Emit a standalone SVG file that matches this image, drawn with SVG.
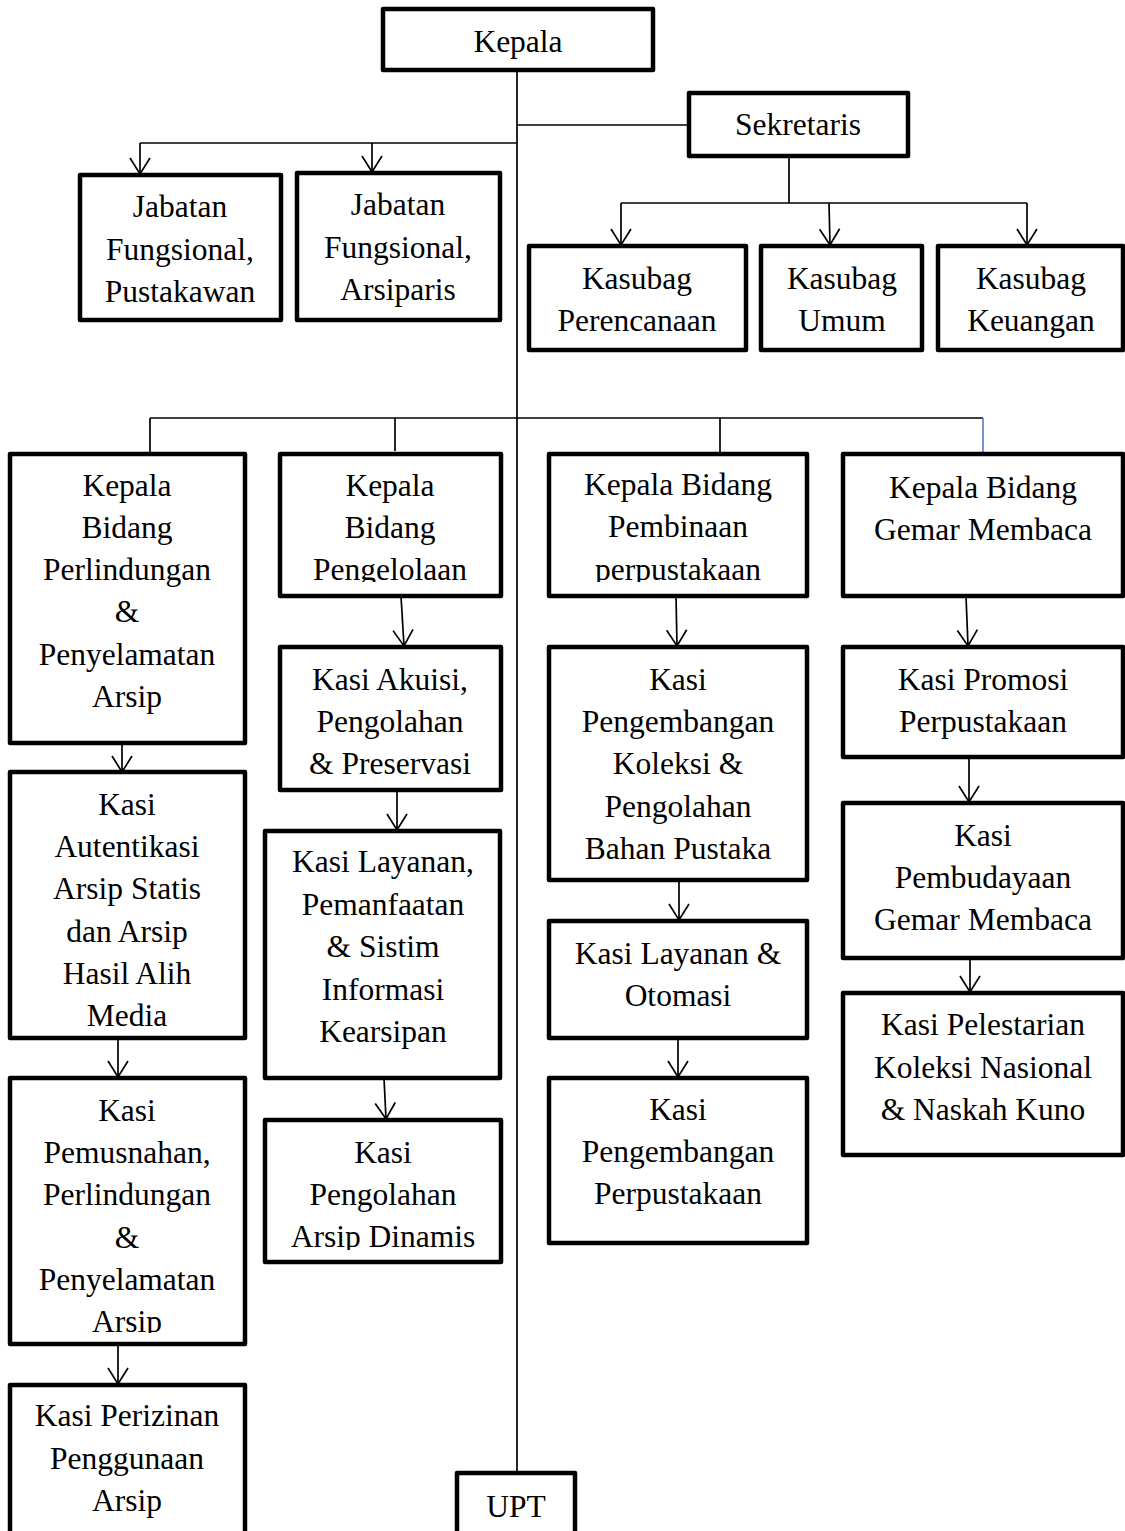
<svg xmlns="http://www.w3.org/2000/svg" width="1125" height="1531" viewBox="0 0 1125 1531" font-family="Liberation Serif, Times New Roman, serif">
<style>
.box{fill:#fff;stroke:#000;stroke-width:4.5;stroke-linejoin:round}
.ln{fill:none;stroke:#000;stroke-width:1.7}
.ar{fill:none;stroke:#000;stroke-width:1.7;marker-end:url(#arr)}
.t{font-family:'Liberation Serif','Times New Roman',serif;font-size:31.5px;text-anchor:middle;fill:#000}
</style>
<defs>
<marker id="arr" markerUnits="userSpaceOnUse" markerWidth="24" markerHeight="24" refX="20" refY="11" orient="auto" overflow="visible">
<path d="M4,1 L20,11 L4,21" fill="none" stroke="#000" stroke-width="1.7"/>
</marker>
<clipPath id="c1"><rect x="280" y="454" width="221" height="128"/></clipPath>
<clipPath id="c2"><rect x="549" y="454" width="258" height="128"/></clipPath>
<clipPath id="c3"><rect x="265" y="1120" width="236" height="130"/></clipPath>
<clipPath id="c4"><rect x="10" y="1078" width="235" height="255"/></clipPath>
</defs>
<g id="connectors">
<line class="ln" x1="517" y1="70" x2="517" y2="1473"/>
<line class="ln" x1="517" y1="125" x2="689" y2="125"/>
<polyline class="ln" points="517,143 140,143"/>
<line class="ar" x1="140" y1="143" x2="140" y2="174"/>
<line class="ar" x1="372" y1="143" x2="372" y2="172"/>
<line class="ln" x1="789" y1="156" x2="789" y2="203"/>
<line class="ln" x1="621" y1="203" x2="1027" y2="203"/>
<line class="ar" x1="621" y1="203" x2="621" y2="245"/>
<line class="ar" x1="829" y1="203" x2="830" y2="245"/>
<line class="ar" x1="1027" y1="203" x2="1027" y2="245"/>
<line class="ln" x1="150" y1="418" x2="983" y2="418"/>
<line class="ln" x1="150" y1="418" x2="150" y2="453"/>
<line class="ln" x1="395" y1="418" x2="395" y2="451"/>
<line class="ln" x1="720" y1="418" x2="720" y2="453"/>
<line x1="983" y1="418" x2="983" y2="453" stroke="#5b87c5" stroke-width="1.7"/>
<line class="ar" x1="122" y1="743" x2="122" y2="772"/>
<line class="ar" x1="118" y1="1038" x2="118" y2="1077"/>
<line class="ar" x1="118" y1="1344" x2="118" y2="1384"/>
<line class="ar" x1="401" y1="596" x2="404" y2="646"/>
<line class="ar" x1="397" y1="790" x2="397" y2="830"/>
<line class="ar" x1="384" y1="1078" x2="386" y2="1119"/>
<line class="ar" x1="676" y1="596" x2="677" y2="646"/>
<line class="ar" x1="679" y1="880" x2="679" y2="920"/>
<line class="ar" x1="678" y1="1038" x2="678" y2="1077"/>
<line class="ar" x1="966" y1="596" x2="968" y2="646"/>
<line class="ar" x1="969" y1="757" x2="969" y2="802"/>
<line class="ar" x1="970" y1="958" x2="970" y2="992"/>
</g>
<g class="t">
<g id="kepala"><rect class="box" x="383" y="9" width="270" height="61"/><text x="518" y="52">Kepala</text></g>
<g id="sekretaris"><rect class="box" x="689" y="93" width="219" height="63"/><text x="798" y="135">Sekretaris</text></g>
<g id="jf-pustakawan"><rect class="box" x="80" y="175" width="201" height="145"/><text x="180" y="217">Jabatan</text><text x="180" y="260">Fungsional,</text><text x="180" y="302">Pustakawan</text></g>
<g id="jf-arsiparis"><rect class="box" x="297" y="173" width="203" height="147"/><text x="398" y="215">Jabatan</text><text x="398" y="258">Fungsional,</text><text x="398" y="300">Arsiparis</text></g>
<g id="kasubag-perencanaan"><rect class="box" x="529" y="246" width="217" height="104"/><text x="637" y="289">Kasubag</text><text x="637" y="331">Perencanaan</text></g>
<g id="kasubag-umum"><rect class="box" x="761" y="246" width="161" height="104"/><text x="842" y="289">Kasubag</text><text x="842" y="331">Umum</text></g>
<g id="kasubag-keuangan"><rect class="box" x="938" y="246" width="185" height="104"/><text x="1031" y="289">Kasubag</text><text x="1031" y="331">Keuangan</text></g>
<g id="kb-perlindungan"><rect class="box" x="10" y="454" width="235" height="289"/><text x="127" y="496">Kepala</text><text x="127" y="538">Bidang</text><text x="127" y="580">Perlindungan</text><text x="127" y="622">&amp;</text><text x="127" y="665">Penyelamatan</text><text x="127" y="707">Arsip</text></g>
<g id="kb-pengelolaan"><rect class="box" x="280" y="454" width="221" height="142"/><g clip-path="url(#c1)"><text x="390" y="496">Kepala</text><text x="390" y="538">Bidang</text><text x="390" y="580">Pengelolaan</text></g></g>
<g id="kb-pembinaan"><rect class="box" x="549" y="454" width="258" height="142"/><g clip-path="url(#c2)"><text x="678" y="495">Kepala Bidang</text><text x="678" y="537">Pembinaan</text><text x="678" y="580">perpustakaan</text></g></g>
<g id="kb-gemar"><rect class="box" x="843" y="454" width="280" height="142"/><text x="983" y="498">Kepala Bidang</text><text x="983" y="540">Gemar Membaca</text></g>
<g id="kasi-autentikasi"><rect class="box" x="10" y="772" width="235" height="266"/><text x="127" y="815">Kasi</text><text x="127" y="857">Autentikasi</text><text x="127" y="899">Arsip Statis</text><text x="127" y="942">dan Arsip</text><text x="127" y="984">Hasil Alih</text><text x="127" y="1026">Media</text></g>
<g id="kasi-pemusnahan"><rect class="box" x="10" y="1078" width="235" height="266"/><g clip-path="url(#c4)"><text x="127" y="1121">Kasi</text><text x="127" y="1163">Pemusnahan,</text><text x="127" y="1205">Perlindungan</text><text x="127" y="1248">&amp;</text><text x="127" y="1290">Penyelamatan</text><text x="127" y="1332">Arsip</text></g></g>
<g id="kasi-perizinan"><rect class="box" x="10" y="1385" width="235" height="160"/><text x="127" y="1426">Kasi Perizinan</text><text x="127" y="1469">Penggunaan</text><text x="127" y="1511">Arsip</text></g>
<g id="kasi-akuisi"><rect class="box" x="280" y="647" width="221" height="143"/><text x="390" y="690">Kasi Akuisi,</text><text x="390" y="732">Pengolahan</text><text x="390" y="774">&amp; Preservasi</text></g>
<g id="kasi-layanan-pemanfaatan"><rect class="box" x="265" y="831" width="235" height="247"/><text x="383" y="872">Kasi Layanan,</text><text x="383" y="915">Pemanfaatan</text><text x="383" y="957">&amp; Sistim</text><text x="383" y="1000">Informasi</text><text x="383" y="1042">Kearsipan</text></g>
<g id="kasi-pengolahan-dinamis"><rect class="box" x="265" y="1120" width="236" height="142"/><g clip-path="url(#c3)"><text x="383" y="1163">Kasi</text><text x="383" y="1205">Pengolahan</text><text x="383" y="1247">Arsip Dinamis</text></g></g>
<g id="kasi-pengembangan-koleksi"><rect class="box" x="549" y="647" width="258" height="233"/><text x="678" y="690">Kasi</text><text x="678" y="732">Pengembangan</text><text x="678" y="774">Koleksi &amp;</text><text x="678" y="817">Pengolahan</text><text x="678" y="859">Bahan Pustaka</text></g>
<g id="kasi-layanan-otomasi"><rect class="box" x="549" y="921" width="258" height="117"/><text x="678" y="964">Kasi Layanan &amp;</text><text x="678" y="1006">Otomasi</text></g>
<g id="kasi-pengembangan-perpustakaan"><rect class="box" x="549" y="1078" width="258" height="165"/><text x="678" y="1120">Kasi</text><text x="678" y="1162">Pengembangan</text><text x="678" y="1204">Perpustakaan</text></g>
<g id="kasi-promosi"><rect class="box" x="843" y="647" width="280" height="110"/><text x="983" y="690">Kasi Promosi</text><text x="983" y="732">Perpustakaan</text></g>
<g id="kasi-pembudayaan"><rect class="box" x="843" y="803" width="280" height="155"/><text x="983" y="846">Kasi</text><text x="983" y="888">Pembudayaan</text><text x="983" y="930">Gemar Membaca</text></g>
<g id="kasi-pelestarian"><rect class="box" x="843" y="993" width="280" height="162"/><text x="983" y="1035">Kasi Pelestarian</text><text x="983" y="1078">Koleksi Nasional</text><text x="983" y="1120">&amp; Naskah Kuno</text></g>
<g id="upt"><rect class="box" x="457" y="1473" width="118" height="72"/><text x="516" y="1517">UPT</text></g>
</g>
</svg>
